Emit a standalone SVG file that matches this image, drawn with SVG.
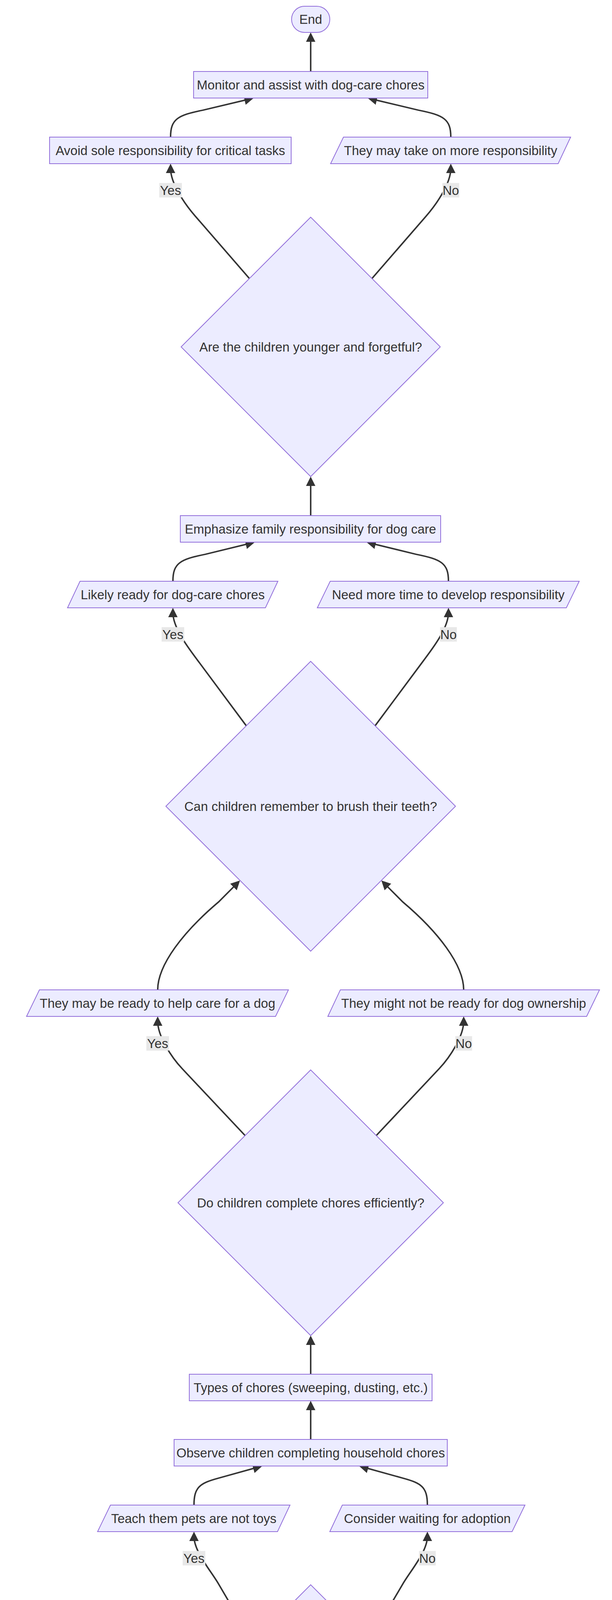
<svg xmlns="http://www.w3.org/2000/svg" width="1568" height="6528" viewBox="0 0 1568 6528">
<style>
.n rect,.n polygon{fill:#ECECFF;stroke:#9370DB;stroke-width:2}
.n text,.el text{font-family:"Liberation Sans",Arial,sans-serif;font-size:33px;fill:#333;text-anchor:middle;dominant-baseline:central}
.e{fill:none;stroke:#333;stroke-width:3.8;marker-end:url(#arrow)}
.el rect{fill:#e8e8e8}
</style>
<defs>
<marker id="arrow" viewBox="0 0 10 10" refX="5" refY="5" markerUnits="userSpaceOnUse" markerWidth="24" markerHeight="24" orient="auto"><path d="M0,0 L10,5 L0,10 z" fill="#333"/></marker>
</defs>
<rect width="1568" height="6528" fill="#fff"/>
<g id="edges">
<path class="e" d="M796,183 L796,95"/>
<path class="e" d="M437,351 C437,305 455,295 520,282 L638.3,253.8"/>
<path class="e" d="M1155,351 C1155,305 1137,295 1072,282 L953.7,253.8"/>
<path class="e" d="M639,713 L500,553 C473.8,522.8 437,470 437,431"/>
<path class="e" d="M953,713 L1092,553 C1118.2,522.8 1155,470 1155,431"/>
<path class="e" d="M796,1320 L796,1232"/>
<path class="e" d="M443,1488 C443,1442 461,1432 526,1419 L641.3,1390.8"/>
<path class="e" d="M1149,1488 C1149,1442 1131,1432 1066,1419 L950.7,1390.8"/>
<path class="e" d="M631,1858 L506,1690 C482,1658 443,1607 443,1568"/>
<path class="e" d="M961,1858 L1086,1690 C1110,1658 1149,1607 1149,1568"/>
<path class="e" d="M404,2534 C404,2470 470,2385 560,2309 L606.5,2262.5"/>
<path class="e" d="M1188,2534 C1188,2470 1122,2385 1032,2309 L985.5,2262.5"/>
<path class="e" d="M628,2907 L467,2736 C439.5,2707 404,2653 404,2614"/>
<path class="e" d="M964,2907 L1125,2736 C1152.5,2707 1188,2653 1188,2614"/>
<path class="e" d="M796,3518 L796,3431"/>
<path class="e" d="M796,3685 L796,3598"/>
<path class="e" d="M497,3853 C497,3807 512,3797 560,3784 L660.4,3756.2"/>
<path class="e" d="M1095,3853 C1095,3807 1080,3797 1032,3784 L931.6,3756.2"/>
<path class="e" d="M648,4205 L560,4055 C539.8,4020.5 497,3972 497,3933"/>
<path class="e" d="M944,4205 L1032,4055 C1052.2,4020.5 1095,3972 1095,3933"/>
<path class="e" d="M796,4884 L796,4797"/>
<path class="e" d="M431,5051 C431,5005 447,4995 510,4983 L636.3,4954.6"/>
<path class="e" d="M1161,5051 C1161,5005 1145,4995 1082,4983 L955.7,4954.6"/>
<path class="e" d="M634,5418 L494,5253 C468,5222.6 431,5170 431,5131"/>
<path class="e" d="M958,5418 L1098,5253 C1124,5222.6 1161,5170 1161,5131"/>
<path class="e" d="M796,6041 L796,5954"/>
<path class="e" d="M796,6209 L796,6121"/>
<path class="e" d="M796,6376 L796,6289"/>
</g>
<g id="edge-labels">
<g class="el"><rect x="408" y="468.5" width="58" height="37"/><text x="437" y="487">Yes</text></g>
<g class="el"><rect x="1133.5" y="468.5" width="43" height="37"/><text x="1155" y="487">No</text></g>
<g class="el"><rect x="414" y="1605.5" width="58" height="37"/><text x="443" y="1624">Yes</text></g>
<g class="el"><rect x="1127.5" y="1605.5" width="43" height="37"/><text x="1149" y="1624">No</text></g>
<g class="el"><rect x="375" y="2652.5" width="58" height="37"/><text x="404" y="2671">Yes</text></g>
<g class="el"><rect x="1166.5" y="2652.5" width="43" height="37"/><text x="1188" y="2671">No</text></g>
<g class="el"><rect x="468" y="3970.5" width="58" height="37"/><text x="497" y="3989">Yes</text></g>
<g class="el"><rect x="1073.5" y="3970.5" width="43" height="37"/><text x="1095" y="3989">No</text></g>
<g class="el"><rect x="402" y="5169.5" width="58" height="37"/><text x="431" y="5188">Yes</text></g>
<g class="el"><rect x="1139.5" y="5169.5" width="43" height="37"/><text x="1161" y="5188">No</text></g>
</g>
<g id="End" class="n"><rect x="747" y="16" width="98" height="67" rx="33.5" ry="33.5"/><text x="796" y="49.5">End</text></g>
<g id="Monitor" class="n"><rect x="496" y="183" width="600" height="68"/><text x="796" y="217">Monitor and assist with dog-care chores</text></g>
<g id="Avoid" class="n"><rect x="127" y="351" width="619" height="68"/><text x="436.5" y="385">Avoid sole responsibility for critical tasks</text></g>
<g id="MoreResp" class="n"><polygon points="847,419 880,351 1462,351 1430,419"/><text x="1154.5" y="385">They may take on more responsibility</text></g>
<g id="Forgetful" class="n"><polygon points="796,556 1128,888 796,1220 464,888"/><text x="796" y="888">Are the children younger and forgetful?</text></g>
<g id="Emphasize" class="n"><rect x="462" y="1320" width="667" height="68"/><text x="795.5" y="1354">Emphasize family responsibility for dog care</text></g>
<g id="LikelyReady" class="n"><polygon points="173,1556 205,1488 712,1488 680,1556"/><text x="442.5" y="1522">Likely ready for dog-care chores</text></g>
<g id="NeedTime" class="n"><polygon points="813,1556 846,1488 1484,1488 1451,1556"/><text x="1148.5" y="1522">Need more time to develop responsibility</text></g>
<g id="Teeth" class="n"><polygon points="796,1693 1167,2064 796,2435 425,2064"/><text x="796" y="2064">Can children remember to brush their teeth?</text></g>
<g id="ReadyHelp" class="n"><polygon points="68,2602 101,2534 739,2534 706,2602"/><text x="403.5" y="2568">They may be ready to help care for a dog</text></g>
<g id="NotReady" class="n"><polygon points="840,2602 872,2534 1536,2534 1503,2602"/><text x="1188" y="2568">They might not be ready for dog ownership</text></g>
<g id="Efficient" class="n"><polygon points="796,2739 1136,3079 796,3419 456,3079"/><text x="796" y="3079">Do children complete chores efficiently?</text></g>
<g id="Types" class="n"><rect x="485" y="3518" width="622" height="68"/><text x="796" y="3552">Types of chores (sweeping, dusting, etc.)</text></g>
<g id="Observe" class="n"><rect x="446" y="3685" width="700" height="68"/><text x="796" y="3719">Observe children completing household chores</text></g>
<g id="Teach" class="n"><polygon points="250,3921 283,3853 743,3853 711,3921"/><text x="496.5" y="3887">Teach them pets are not toys</text></g>
<g id="Waiting" class="n"><polygon points="845,3921 877,3853 1345,3853 1312,3921"/><text x="1095" y="3887">Consider waiting for adoption</text></g>
<g id="WellBehaved" class="n"><polygon points="796,4057 1160,4421 796,4785 432,4421"/><text x="796" y="4421">Are the children younger but well-behaved?</text></g>
<g id="Evaluate" class="n"><rect x="506" y="4884" width="580" height="68"/><text x="796" y="4918">Evaluate responsibility through chores</text></g>
<g id="Gentle" class="n"><polygon points="16,5119 48,5051 846,5051 813,5119"/><text x="431" y="5085">They may understand the need for gentle treatment</text></g>
<g id="Proceed" class="n"><polygon points="946,5119 978,5051 1377,5051 1344,5119"/><text x="1161.5" y="5085">Proceed to the next step</text></g>
<g id="Mature" class="n"><polygon points="796,5256 1139,5599 796,5942 453,5599"/><text x="796" y="5599">Are the children older and more mature?</text></g>
<g id="AgeLevel" class="n"><rect x="442" y="6041" width="708" height="68"/><text x="796" y="6075">Consider the child's age and development level</text></g>
<g id="Acknowledge" class="n"><rect x="356" y="6209" width="880" height="68"/><text x="796" y="6243">Acknowledge children's behavior impact on dog interaction</text></g>
<g id="Start" class="n"><rect x="737" y="6376" width="117" height="68" rx="34" ry="34"/><text x="795.5" y="6410">Start</text></g>
</svg>
